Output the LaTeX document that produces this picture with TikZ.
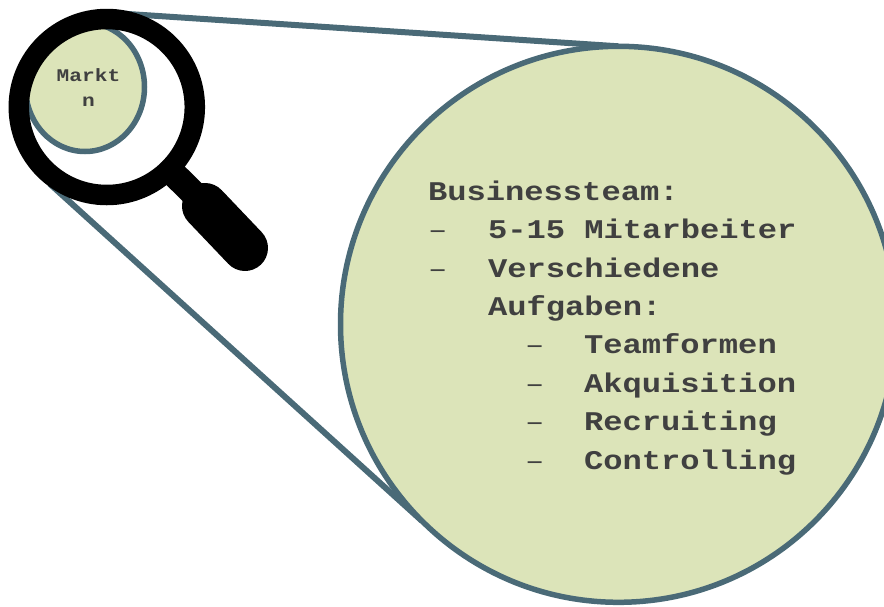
\documentclass[tikz,border=0pt]{standalone}
\usetikzlibrary{shapes.geometric}
\usepackage{fontspec}
\setmonofont{Liberation Mono}
\newfontfamily\widemono[FakeStretch=1.19]{Liberation Mono}
\newfontfamily\widemonob[FakeStretch=1.19]{Liberation Mono Bold}
\definecolor{edgeblue}{HTML}{4A6A77}
\definecolor{leaf}{HTML}{DCE4B9}
\definecolor{ink}{HTML}{404040}
\pgfdeclarelayer{under}
\pgfsetlayers{under,main}
\tikzset{
  bubble/.style={circle,draw=edgeblue,fill=leaf,line width=5.5pt,inner sep=0pt,outer sep=0pt},
  oval/.style={ellipse,draw=edgeblue,fill=leaf,line width=5.5pt,inner sep=0pt,outer sep=0pt},
  beam/.style={draw=edgeblue,line width=6pt},
  txt/.style={anchor=base west,inner sep=0pt,outer sep=0pt,text=ink,font=\widemonob\fontsize{27}{32}\selectfont},
  dsh/.style={anchor=base west,inner sep=0pt,outer sep=0pt,text=ink,font=\widemono\fontsize{27}{32}\selectfont},
  small/.style={anchor=base,inner sep=0pt,outer sep=0pt,text=ink,font=\widemonob\fontsize{17.8}{22}\selectfont},
  ringstyle/.style={circle,draw=black,line width=20.5pt,inner sep=0pt,outer sep=0pt},
}
\begin{document}
\begin{tikzpicture}[x=1pt,y=-1pt]
\useasboundingbox (0,0) rectangle (884,606);
\begin{scope}
\clip (0,0) rectangle (884,606);
\node[bubble,minimum size=556pt] (big) at (618.5,324.3) {};
\node[oval,minimum width=119pt,minimum height=129pt] (small) at (85,87) {};
\node[ringstyle,minimum size=176pt] (ring) at (106.8,107) {};
\coordinate (ringTop) at (125,13.8);
\coordinate (ringBot) at (50,184);
\begin{pgfonlayer}{under}
\draw[beam] (ringTop) -- (big.north);
\draw[beam] (ringBot) -- (big.225);
\end{pgfonlayer}
\coordinate (h0) at (ring.315);
\coordinate (h1) at (196,196);
\coordinate (h2) at (205,206);
\coordinate (h3) at (245,248);
\draw[black,line width=26pt] (h0) -- (h1);
\draw[black,line width=46pt,line cap=round] (h2) -- (h3);
\end{scope}
\node[small] (m1) at (88.5,81.5) {Markt};
\node[small] (m2) at (88.5,106) {n};
\node[txt] (t0) at (428,200) {Businessteam:};
\node[dsh] (d1) at (428,238) {–};
\node[txt] (t1) at (488,238) {5-15 Mitarbeiter};
\node[dsh] (d2) at (428,277) {–};
\node[txt] (t2) at (488,277) {Verschiedene};
\node[txt] (t3) at (488,315) {Aufgaben:};
\node[dsh] (d3) at (525,353) {–};
\node[txt] (t4) at (584,353) {Teamformen};
\node[dsh] (d4) at (525,392) {–};
\node[txt] (t5) at (584,392) {Akquisition};
\node[dsh] (d5) at (525,430) {–};
\node[txt] (t6) at (584,430) {Recruiting};
\node[dsh] (d6) at (525,469) {–};
\node[txt] (t7) at (584,469) {Controlling};
\end{tikzpicture}
\end{document}
